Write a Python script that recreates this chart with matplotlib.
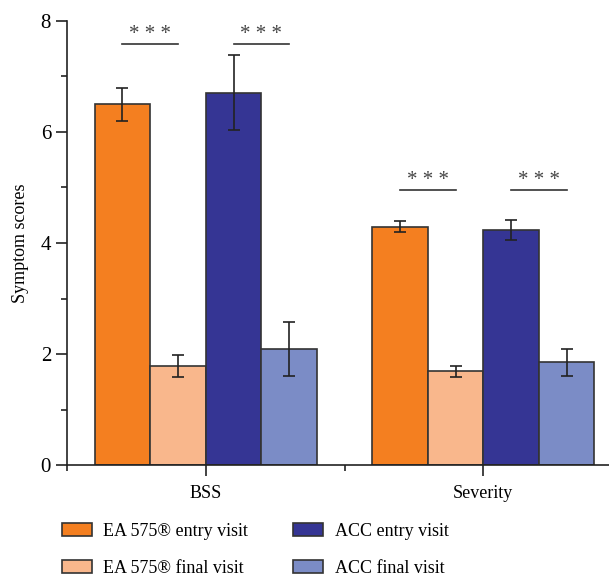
import numpy as np
import matplotlib
matplotlib.use("Agg")
import matplotlib.pyplot as plt
from matplotlib.patches import Patch

plt.rcParams['font.family'] = ['Liberation Serif', 'DejaVu Serif']

# data
categories = ["BSS", "Severity"]
series_names = ["EA 575\u00ae entry visit", "EA 575\u00ae final visit",
                "ACC entry visit", "ACC final visit"]
ea_entry = [6.5, 4.29]
ea_final = [1.79, 1.69]
acc_entry = [6.71, 4.23]
acc_final = [2.09, 1.85]
ea_entry_err = [0.30, 0.10]
ea_final_err = [0.20, 0.10]
acc_entry_err = [0.68, 0.18]
acc_final_err = [0.48, 0.25]
sig_labels = ["* * *", "* * *", "* * *", "* * *"]

colors = ["#F47F20", "#F9B78C", "#353594", "#7B8CC6"]
edge = "#333333"

fig = plt.figure(figsize=(6.09, 5.80), dpi=100)
ax = fig.add_axes([0.110, 0.198, 0.890, 0.766])

x = np.arange(len(categories))
w = 0.2
offsets = [-1.5 * w, -0.5 * w, 0.5 * w, 1.5 * w]
values = [ea_entry, ea_final, acc_entry, acc_final]
errs = [ea_entry_err, ea_final_err, acc_entry_err, acc_final_err]

for off, v, e, c, name in zip(offsets, values, errs, colors, series_names):
    ax.bar(x + off, v, w, color=c, edgecolor=edge, linewidth=1.2, label=name,
           zorder=2)
    ax.errorbar(x + off, v, yerr=e, fmt="none", ecolor="#222222",
                elinewidth=1.2, capsize=4, capthick=1.2, zorder=3)

# significance brackets: entry vs final for each product
for i in range(len(categories)):
    top = max(ea_entry[i] + ea_entry_err[i], acc_entry[i] + acc_entry_err[i])
    ylev = top + 0.2 if i == 0 else top + 0.55
    for k, (a, b) in enumerate([(0, 1), (2, 3)]):
        x0 = x[i] + offsets[a]
        x1 = x[i] + offsets[b]
        ax.plot([x0, x1], [ylev, ylev], color="#333333", lw=1.2, zorder=3)
        ax.text((x0 + x1) / 2, ylev + 0.0, sig_labels[2 * i + k],
                ha="center", va="bottom", fontsize=15, color="#444444")

ax.set_xlim(-0.5, 1.453)
ax.set_ylim(0, 8)
ax.spines["top"].set_visible(False)
ax.spines["right"].set_visible(False)
for s in ["left", "bottom"]:
    ax.spines[s].set_linewidth(1.2)
    ax.spines[s].set_color("#222222")

ax.set_yticks([0, 2, 4, 6, 8])
ax.set_yticks([1, 3, 5, 7], minor=True)
ax.set_xticks(x)
ax.set_xticklabels(categories)
ax.set_xticks([-0.5, 0.5], minor=True)
ax.tick_params(axis="both", which="major", direction="out", length=8,
               width=1.2, labelsize=15, color="#222222")
ax.tick_params(axis="both", which="minor", direction="out", length=4,
               width=1.2, color="#222222")
ax.tick_params(axis="x", which="major", labelsize=13, pad=6)
ax.set_ylabel("Symptom scores", fontsize=13, labelpad=8)

handles = [Patch(facecolor=c, edgecolor=edge, linewidth=1.2) for c in colors]
fig.legend(handles, series_names,
           ncol=2, frameon=False, loc="lower left",
           bbox_to_anchor=(0.075, -0.022), fontsize=13,
           handlelength=1.65, handleheight=0.75, handletextpad=0.65,
           columnspacing=2.5, labelspacing=1.1)

fig.savefig("out.png", dpi=100)
